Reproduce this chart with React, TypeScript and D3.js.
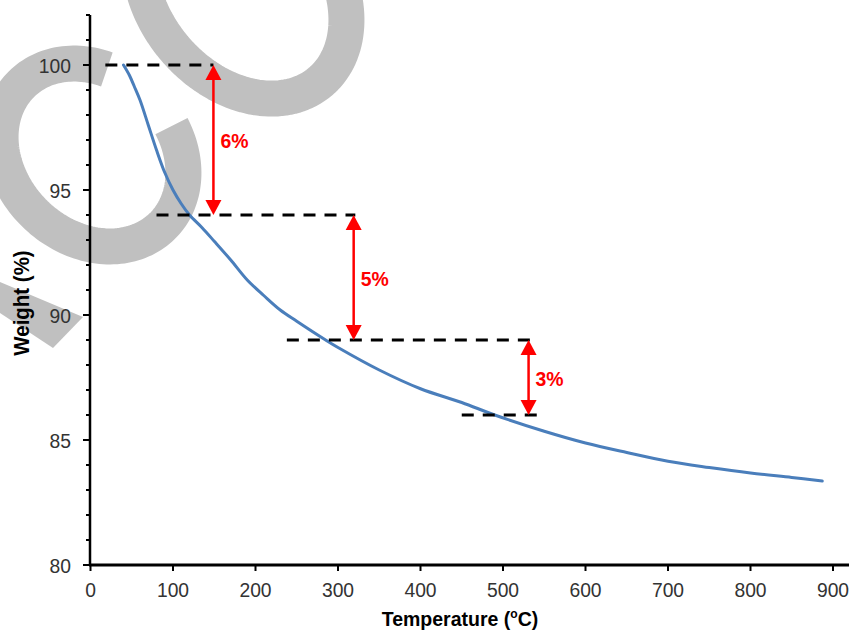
import React from "react";
import * as d3 from "d3";

const temps = [40, 47, 53, 60, 70, 80, 90, 100, 110, 120, 135, 150, 170, 190, 210, 230, 250, 285, 300, 350, 400, 450, 490, 550, 600, 650, 700, 750, 800, 850, 887];
const weights = [100, 99.6, 99.15, 98.6, 97.6, 96.6, 95.7, 95.0, 94.45, 94.0, 93.5, 92.95, 92.2, 91.4, 90.78, 90.2, 89.75, 89.0, 88.7, 87.8, 87.05, 86.5, 86.0, 85.35, 84.88, 84.5, 84.15, 83.9, 83.68, 83.5, 83.36];

const levels = [100, 94, 89, 86];
const levelStart = [18, 80, 238, 450];
const levelEnd = [149, 321, 535, 548];
const arrowT = [149, 319, 531];
const arrowLabels = ["6%", "5%", "3%"];

const xTicks = [0, 100, 200, 300, 400, 500, 600, 700, 800, 900];
const yTicks = [80, 85, 90, 95, 100];
const yMinor = [81, 82, 83, 84, 86, 87, 88, 89, 91, 92, 93, 94, 96, 97, 98, 99, 101, 102];

const W = 853;
const H = 632;

function ellipsePath(cx: number, cy: number, a: number, b: number, phiDeg: number, t0: number, t1: number, closed = false) {
  const phi = (phiDeg * Math.PI) / 180;
  const pts: [number, number][] = [];
  const n = 160;
  for (let i = 0; i <= n; i++) {
    const t = ((t0 + ((t1 - t0) * i) / n) * Math.PI) / 180;
    const x = cx + a * Math.cos(t) * Math.cos(phi) - b * Math.sin(t) * Math.sin(phi);
    const y = cy + a * Math.cos(t) * Math.sin(phi) + b * Math.sin(t) * Math.cos(phi);
    pts.push([x, y]);
  }
  return (d3.line()(pts) || "") + (closed ? "Z" : "");
}

export default function App() {
  const x = d3.scaleLinear().domain([0, 900]).range([90.5, 833]);
  const y = d3.scaleLinear().domain([80, 102]).range([565, 15]);

  const line = d3
    .line<number>()
    .x((_, i) => x(temps[i]))
    .y((d) => y(d))
    .curve(d3.curveCatmullRom.alpha(0.5));

  const red = "#ff0000";
  const grey = "#c0c0c0";
  const tickFill = "#333333";
  const font = "'Liberation Sans', Arial, sans-serif";

  return (
    <svg
      width={W}
      height={H}
      style={{ position: "absolute", left: 0, top: 0, background: "#fff" }}
      fontFamily={font}
    >
      {/* watermark */}
      <g fill="none" stroke={grey} strokeWidth={36}>
        <path d={ellipsePath(92, 155, 100, 82, 45, 291, 600)} />
        <path d={ellipsePath(243, -10, 120, 90, 50, 0, 360, true)} strokeLinejoin="round" />
      </g>
      <polygon points="0,282 83,317 53,348 0,313" fill={grey} />

      {/* curve */}
      <path d={line(weights) || ""} fill="none" stroke="#4a7ebb" strokeWidth={3} strokeLinejoin="round" strokeLinecap="round" />

      {/* dashed levels */}
      {levels.map((lv, i) => (
        <line
          key={"lv" + i}
          x1={x(levelStart[i])}
          x2={x(levelEnd[i])}
          y1={y(lv)}
          y2={y(lv)}
          stroke="#000"
          strokeWidth={3}
          strokeDasharray="12 9"
        />
      ))}

      {/* arrows */}
      {arrowT.map((t, i) => {
        const ax = x(t);
        const yTop = y(levels[i]);
        const yBot = y(levels[i + 1]);
        const hl = 15;
        const hw = 8;
        return (
          <g key={"ar" + i}>
            <line x1={ax} x2={ax} y1={yTop + hl - 1} y2={yBot - hl + 1} stroke={red} strokeWidth={2.5} />
            <polygon points={`${ax},${yTop} ${ax - hw},${yTop + hl} ${ax + hw},${yTop + hl}`} fill={red} />
            <polygon points={`${ax},${yBot} ${ax - hw},${yBot - hl} ${ax + hw},${yBot - hl}`} fill={red} />
            <text
              transform={`translate(${ax + 7},${(yTop + yBot) / 2 + 8}) scale(0.97,1)`}
              fill={red}
              fontWeight="bold"
              fontSize={20}
            >
              {arrowLabels[i]}
            </text>
          </g>
        );
      })}

      {/* y axis */}
      <line x1={90} x2={90} y1={y(102)} y2={565} stroke="#000" strokeWidth={2.5} />
      {yTicks.map((v) => (
        <g key={"yt" + v}>
          <line x1={83} x2={90} y1={y(v)} y2={y(v)} stroke="#000" strokeWidth={2} />
          <text
            transform={`translate(71,${y(v) + 7.5}) scale(0.92,1)`}
            textAnchor="end"
            fontSize={21}
            fill={tickFill}
          >
            {v}
          </text>
        </g>
      ))}
      {yMinor.map((v) => (
        <line key={"ym" + v} x1={86} x2={90} y1={y(v)} y2={y(v)} stroke="#000" strokeWidth={2} />
      ))}

      {/* x axis */}
      <line x1={89} x2={849} y1={565} y2={565} stroke="#000" strokeWidth={3} />
      {xTicks.map((v) => (
        <g key={"xt" + v}>
          <line x1={x(v)} x2={x(v)} y1={565} y2={571} stroke="#000" strokeWidth={2} />
          <text
            transform={`translate(${x(v)},597) scale(0.92,1)`}
            textAnchor="middle"
            fontSize={21}
            fill={tickFill}
          >
            {v}
          </text>
        </g>
      ))}

      {/* axis titles */}
      <text
        transform={`translate(460,626) scale(0.93,1)`}
        textAnchor="middle"
        fontSize={21}
        fontWeight="bold"
        fill="#000"
      >
        Temperature (
        <tspan fontSize={13} dy={-8}>
          o
        </tspan>
        <tspan dy={8}>C)</tspan>
      </text>
      <text
        transform={`translate(29,303) rotate(-90) scale(0.93,1)`}
        textAnchor="middle"
        fontSize={22}
        fontWeight="bold"
        fill="#000"
      >
        Weight (%)
      </text>
    </svg>
  );
}
